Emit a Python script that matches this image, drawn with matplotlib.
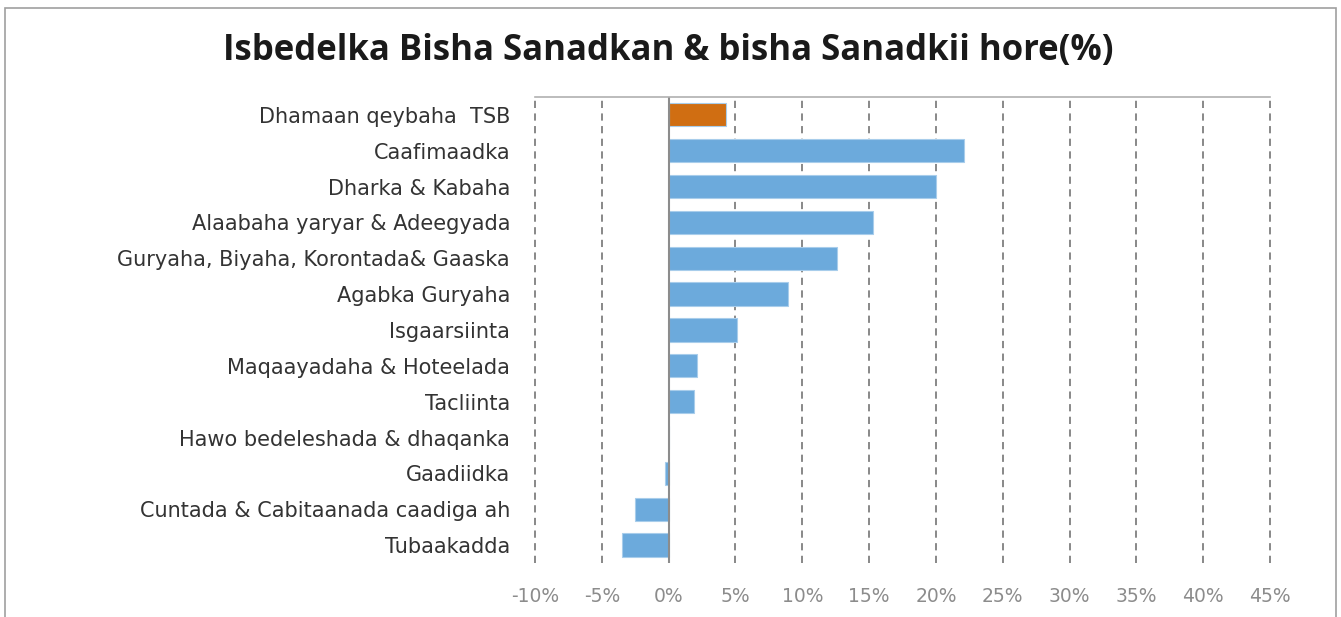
import numpy as np
import matplotlib.pyplot as plt
from matplotlib.patches import Rectangle

categories = ['Dhamaan qeybaha  TSB', 'Caafimaadka', 'Dharka & Kabaha',
              'Alaabaha yaryar & Adeegyada', 'Guryaha, Biyaha, Korontada& Gaaska',
              'Agabka Guryaha', 'Isgaarsiinta', 'Maqaayadaha & Hoteelada',
              'Tacliinta', 'Hawo bedeleshada & dhaqanka', 'Gaadiidka',
              'Cuntada & Cabitaanada caadiga ah', 'Tubaakadda']
values = [4.3, 22.1, 20.0, 15.3, 12.6, 8.9, 5.1, 2.1, 1.9, 0.0, -0.25, -2.5, -3.5]
ticks = np.arange(-10, 50, 5)

colors = ['#D06E12'] + ['#6CAADC'] * (len(values) - 1)

fig = plt.figure(figsize=(13.41, 6.17), dpi=100)
fig.patches.append(Rectangle((0.004, -0.01), 0.992, 0.997, transform=fig.transFigure,
                             fill=False, edgecolor='#A0A0A0', linewidth=1.2))
ax = fig.add_axes([0.399, 0.0875, 0.548, 0.7555])

y = np.arange(len(categories))
ax.barh(y, values, height=0.65, color=colors, edgecolor='#A8CDEB', linewidth=0.8, zorder=3)
ax.set_ylim(len(categories) - 0.5, -0.5)
ax.set_xlim(-10, 45)

for t in ticks:
    if t != 0:
        ax.axvline(t, color='#7F7F7F', linestyle=(0, (4, 3)), linewidth=1.3, zorder=1, clip_on=False)
ax.axvline(0, color='#8C8C8C', linewidth=1.5, zorder=4)

ax.set_xticks(ticks)
ax.set_xticklabels([f'{t}%' for t in ticks], fontsize=13.5, color='#8C8C8C', family='DejaVu Sans')
ax.set_yticks(y)
ax.set_yticklabels(categories, fontsize=15, color='#333333', family='DejaVu Sans')
ax.tick_params(axis='both', length=0)
ax.tick_params(axis='y', pad=18)
ax.tick_params(axis='x', pad=17)

for s in ['left', 'right', 'bottom']:
    ax.spines[s].set_visible(False)
ax.spines['top'].set_color('#B0B0B0')
ax.spines['top'].set_linewidth(1.2)
ax.spines['top'].set_zorder(5)

fig.text(0.498, 0.918, 'Isbedelka Bisha Sanadkan & bisha Sanadkii hore(%)',
         ha='center', va='center', fontsize=25, fontweight='bold', family='Open Sans', color='#1A1A1A')

fig.savefig('out.png', dpi=100)
